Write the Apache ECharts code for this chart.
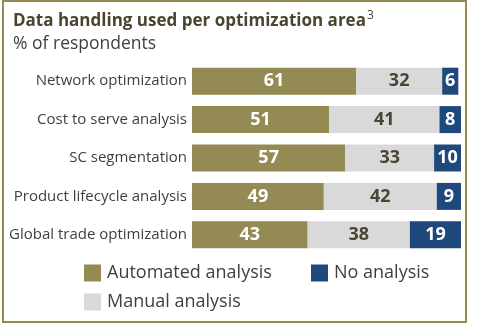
<!DOCTYPE html>
<html><head><meta charset="utf-8">
<script src="https://cdn.jsdelivr.net/npm/echarts@6/dist/echarts.min.js"></script>
<style>html,body{margin:0;padding:0;background:#fff}#c{width:500px;height:328px}</style>
</head><body><div id="c"></div>
<script>
const categories = ['Network optimization','Cost to serve analysis','SC segmentation','Product lifecycle analysis','Global trade optimization'];
const automated = [61, 51, 57, 49, 43];
const manual = [32, 41, 33, 42, 38];
const noAnalysis = [6, 8, 10, 9, 19];
const seriesNames = ['Automated analysis','Manual analysis','No analysis'];

const FONT = 'Open Sans';
const chart = echarts.init(document.getElementById('c'), null, {renderer:'canvas'});
function mk(name, data, color, labelColor){
  return {name, type:'bar', stack:'a', data, barWidth:27, itemStyle:{color},
    label:{show:true, position:'inside', color:labelColor, fontFamily:FONT, fontWeight:'bold', fontSize:18},
    emphasis:{disabled:true}};
}
const legendBase = {itemWidth:17, itemHeight:17, icon:'rect', textStyle:{fontFamily:FONT, fontSize:18, color:'#3f3f3f', padding:[0,0,0,1]}, padding:0, selectedMode:false};
chart.setOption({
  animation:false,
  title:{text:'{b|Data handling used per optimization area}{s|3}\n{n|% of respondents}', left:13, top:10, padding:0,
    textStyle:{rich:{
      b:{fontFamily:FONT, fontWeight:'bold', fontSize:17, color:'#4a4530', lineHeight:23},
      s:{fontFamily:FONT, fontWeight:'normal', fontSize:12, color:'#4a4530', verticalAlign:'top', lineHeight:23, padding:[0,0,7,1]},
      n:{fontFamily:FONT, fontWeight:'normal', fontSize:17.5, color:'#3f3f3f', lineHeight:23}}}},
  grid:{left:192, right:39, top:62, bottom:74, containLabel:false},
  xAxis:{type:'value', min:0, max:100, show:false},
  yAxis:{type:'category', data:categories, inverse:true, axisLine:{show:false}, axisTick:{show:false},
    axisLabel:{fontFamily:FONT, fontSize:15, color:'#3f3f3f', margin:5}},
  legend:[
    Object.assign({data:[seriesNames[0]], left:84, top:264}, legendBase),
    Object.assign({data:[seriesNames[2]], left:311, top:264}, legendBase),
    Object.assign({data:[seriesNames[1]], left:84, top:293}, legendBase)
  ],
  series:[
    mk(seriesNames[0], automated, '#948b54', '#ffffff'),
    mk(seriesNames[1], manual, '#d9d9d9', '#4a4530'),
    mk(seriesNames[2], noAnalysis, '#1f497d', '#ffffff')
  ],
  graphic:[{type:'rect', shape:{x:3, y:1, width:463, height:321}, style:{fill:null, stroke:'#948b54', lineWidth:2}, silent:true}]
});
</script></body></html>
